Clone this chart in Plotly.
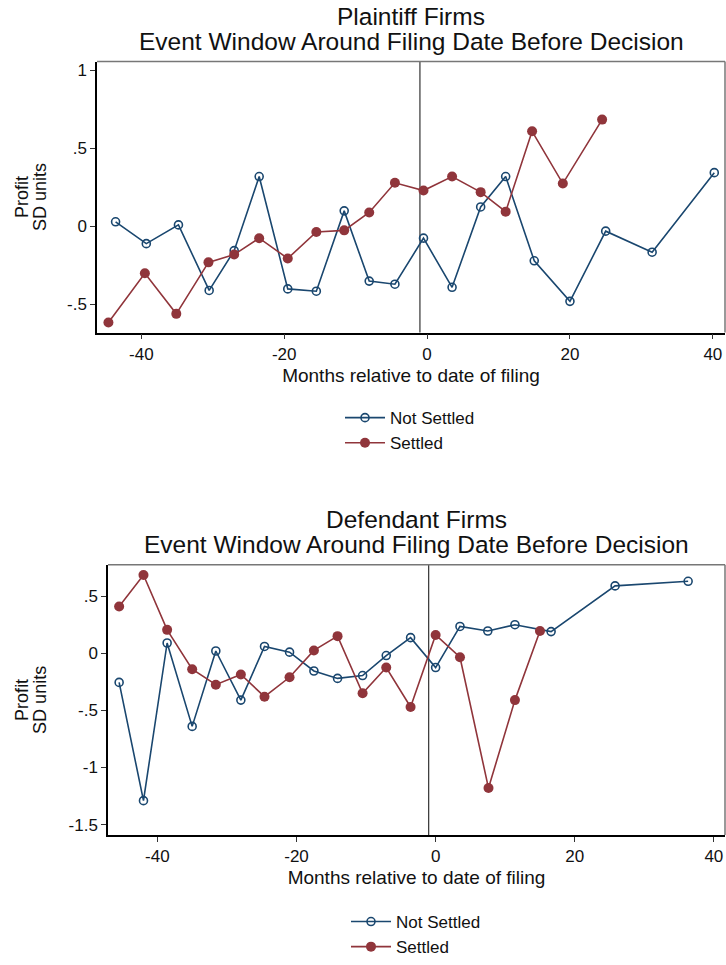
import plotly.graph_objects as go

# ---------------- data ----------------
# Plaintiff firms (top panel)
p_ns_x = [-43.6, -39.3, -34.8, -30.5, -27.0, -23.5, -19.5, -15.5, -11.6, -8.1, -4.5, -0.5, 3.5, 7.5, 11.0, 15.0, 20.0, 25.0, 31.5, 40.2]
p_ns_y = [0.03, -0.11, 0.01, -0.41, -0.155, 0.32, -0.40, -0.415, 0.10, -0.35, -0.37, -0.075, -0.39, 0.125, 0.32, -0.22, -0.48, -0.03, -0.165, 0.345]
p_s_x = [-44.6, -39.5, -35.1, -30.6, -27.0, -23.5, -19.5, -15.5, -11.6, -8.1, -4.5, -0.5, 3.5, 7.5, 11.0, 14.7, 19.0, 24.5]
p_s_y = [-0.615, -0.30, -0.56, -0.23, -0.18, -0.075, -0.205, -0.035, -0.025, 0.09, 0.28, 0.23, 0.32, 0.22, 0.095, 0.61, 0.275, 0.685]

# Defendant firms (bottom panel)
d_ns_x = [-45.5, -42.0, -38.6, -35.0, -31.6, -28.0, -24.6, -21.0, -17.5, -14.1, -10.5, -7.1, -3.6, 0.0, 3.5, 7.5, 11.4, 16.6, 25.8, 36.3]
d_ns_y = [-0.255, -1.29, 0.09, -0.64, 0.02, -0.41, 0.06, 0.01, -0.155, -0.22, -0.195, -0.02, 0.137, -0.125, 0.235, 0.195, 0.25, 0.19, 0.59, 0.63]
d_s_x = [-45.5, -42.0, -38.6, -35.0, -31.6, -28.0, -24.6, -21.0, -17.5, -14.1, -10.5, -7.1, -3.6, 0.0, 3.5, 7.6, 11.4, 15.0]
d_s_y = [0.41, 0.685, 0.205, -0.14, -0.275, -0.185, -0.38, -0.21, 0.025, 0.15, -0.35, -0.125, -0.47, 0.16, -0.035, -1.18, -0.41, 0.195]

x_tick_vals = [-40, -20, 0, 20, 40]
x_tick_text = ["-40", "-20", "0", "20", "40"]
top_y_tick_vals = [-0.5, 0, 0.5, 1]
top_y_tick_text = ["-.5", "0", ".5", "1"]
bot_y_tick_vals = [-1.5, -1, -0.5, 0, 0.5]
bot_y_tick_text = ["-1.5", "-1", "-.5", "0", ".5"]
event_line_x = -1

series_names = ["Not Settled", "Settled"]
titles_top = ["Plaintiff Firms", "Event Window Around Filing Date Before Decision"]
titles_bot = ["Defendant Firms", "Event Window Around Filing Date Before Decision"]
x_title = "Months relative to date of filing"
y_title = ["Profit", "SD units"]

# ---------------- styling ----------------
BLUE = "#1a476f"
RED = "#90353b"
FONT = "Liberation Sans"
W, H = 726, 965

# plot-region boxes in pixels (left, top, right, bottom)
TOP_BOX = (97, 62, 725, 335)
BOT_BOX = (108, 569, 725, 841)

fig = go.Figure()

def add_pair(xa, ya, ns_x, ns_y, s_x, s_y, legend):
    fig.add_trace(go.Scatter(x=ns_x, y=ns_y, mode="lines+markers", name=series_names[0],
                             xaxis=xa, yaxis=ya, legend=legend,
                             line=dict(color=BLUE, width=1.6),
                             marker=dict(symbol="circle-open", size=8, color=BLUE, line=dict(width=1.6))))
    fig.add_trace(go.Scatter(x=s_x, y=s_y, mode="lines+markers", name=series_names[1],
                             xaxis=xa, yaxis=ya, legend=legend,
                             line=dict(color=RED, width=1.6),
                             marker=dict(symbol="circle", size=10, color=RED)))

add_pair("x", "y", p_ns_x, p_ns_y, p_s_x, p_s_y, "legend")
add_pair("x2", "y2", d_ns_x, d_ns_y, d_s_x, d_s_y, "legend2")

def px_x(p):
    return p / W

def px_y(p):
    return 1 - p / H

axis_common = dict(showline=True, linecolor="black", linewidth=1.5, mirror=False,
                   ticks="outside", ticklen=5, tickwidth=1.2, tickcolor="#333",
                   showgrid=False, zeroline=False,
                   tickfont=dict(family=FONT, size=17, color="#111"))

fig.update_layout(
    width=W, height=H,
    margin=dict(l=0, r=0, t=0, b=0),
    paper_bgcolor="white", plot_bgcolor="white",
    font=dict(family=FONT, color="#111"),
    xaxis=dict(domain=[px_x(TOP_BOX[0]), px_x(TOP_BOX[2])], anchor="y", range=[-46.2, 41.7],
               tickvals=x_tick_vals, ticktext=x_tick_text,
               title=dict(text=x_title, font=dict(family=FONT, size=19), standoff=6),
               **axis_common),
    yaxis=dict(domain=[px_y(TOP_BOX[3]), px_y(TOP_BOX[1])], anchor="x", range=[-0.68, 1.057],
               tickvals=top_y_tick_vals, ticktext=top_y_tick_text, **axis_common),
    xaxis2=dict(domain=[px_x(BOT_BOX[0]), px_x(BOT_BOX[2])], anchor="y2", range=[-47.1, 41.6],
                tickvals=x_tick_vals, ticktext=x_tick_text,
                title=dict(text=x_title, font=dict(family=FONT, size=19), standoff=6),
                **axis_common),
    yaxis2=dict(domain=[px_y(BOT_BOX[3]), px_y(BOT_BOX[1])], anchor="x2", range=[-1.59, 0.774],
                tickvals=bot_y_tick_vals, ticktext=bot_y_tick_text, **axis_common),
    legend=dict(x=px_x(340), y=px_y(403), xanchor="left", yanchor="top",
                font=dict(family=FONT, size=17, color="#111"), itemwidth=40,
                bgcolor="rgba(0,0,0,0)", tracegroupgap=0),
    legend2=dict(x=px_x(346), y=px_y(911), xanchor="left", yanchor="top",
                 font=dict(family=FONT, size=17, color="#111"), itemwidth=40,
                 bgcolor="rgba(0,0,0,0)", tracegroupgap=0),
)

# frames (top and right edges, grey) and event lines
for (l, t, r, b), xa, ya in [(TOP_BOX, "x", "y"), (BOT_BOX, "x2", "y2")]:
    fig.add_shape(type="line", xref="paper", yref="paper",
                  x0=px_x(l), x1=px_x(r), y0=px_y(t), y1=px_y(t),
                  line=dict(color="#777", width=1.5), layer="above")
    fig.add_shape(type="line", xref="paper", yref="paper",
                  x0=px_x(r), x1=px_x(r), y0=px_y(b), y1=px_y(t),
                  line=dict(color="#777", width=1.5), layer="above")
    fig.add_shape(type="line", xref=xa, yref=f"{ya} domain", x0=event_line_x, x1=event_line_x,
                  y0=0, y1=1, line=dict(color="#333", width=1.2), layer="below")

# titles
for txt, ypx, xc in [(titles_top[0], 17, 411), (titles_top[1], 42, 411),
                     (titles_bot[0], 523, 416.5), (titles_bot[1], 548, 416.5)]:
    fig.add_annotation(text=txt, x=px_x(xc), y=px_y(ypx), xref="paper", yref="paper",
                       showarrow=False, xanchor="center", yanchor="middle",
                       font=dict(family=FONT, size=24.5, color="#111"))

# y-axis titles (two lines each)
for (l, t, r, b) in [TOP_BOX, BOT_BOX]:
    yc = (t + b) / 2
    for txt, xpx in [(y_title[0], 22), (y_title[1], 40)]:
        fig.add_annotation(text=txt, x=px_x(xpx), y=px_y(yc), xref="paper", yref="paper",
                           showarrow=False, textangle=-90, xanchor="center", yanchor="middle",
                           font=dict(family=FONT, size=18, color="#111"))

fig.write_html("out.html")
